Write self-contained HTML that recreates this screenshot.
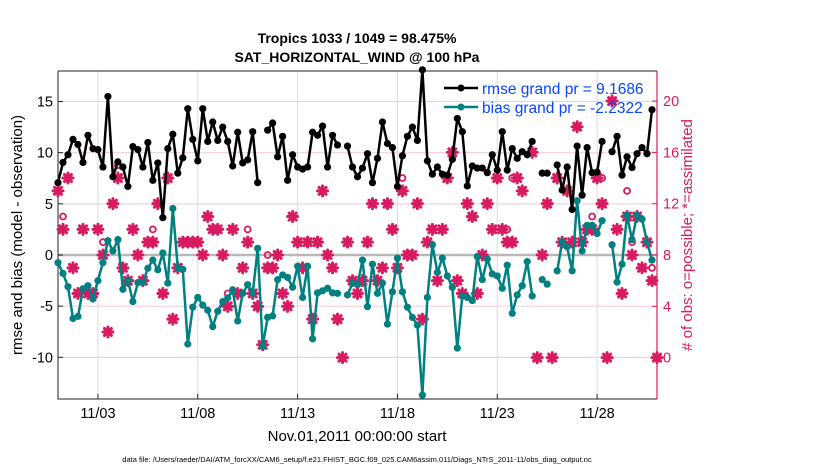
<!DOCTYPE html>
<html><head><meta charset="utf-8">
<style>
html,body{margin:0;padding:0;background:#fff;}
svg{display:block;font-family:"Liberation Sans",sans-serif;}
</style></head>
<body>
<svg id="chart" width="830" height="470" viewBox="0 0 830 470">
<g id="grid"></g>
<g id="axes"></g>
<g id="obs"></g>
<g id="series"></g>
<text x="357" y="43" text-anchor="middle" font-size="14" font-weight="bold">Tropics 1033 / 1049 = 98.475%</text>
<text x="357" y="62" text-anchor="middle" font-size="14" font-weight="bold">SAT_HORIZONTAL_WIND @ 100 hPa</text>
<g>
  <g>
    <line x1="444" y1="88" x2="478" y2="88" stroke="#000" stroke-width="2.5"/>
    <circle cx="461" cy="88" r="3.5" fill="#000"/>
    <text x="482" y="94" font-size="15.5" fill="#0a46ff">rmse grand pr = 9.1686</text>
  </g>
  <g>
    <line x1="444" y1="107" x2="478" y2="107" stroke="#008080" stroke-width="2.5"/>
    <circle cx="461" cy="107" r="3.5" fill="#008080"/>
    <text x="482" y="113" font-size="15.5" fill="#0a46ff">bias grand pr = -2.2322</text>
  </g>
</g>
<text transform="translate(22,235) rotate(-90)" text-anchor="middle" font-size="15">rmse and bias (model - observation)</text>
<text transform="translate(692,235) rotate(-90)" text-anchor="middle" font-size="15" fill="#d81b60"># of obs: o=possible; *=assimilated</text>
<text x="357" y="441" text-anchor="middle" font-size="15">Nov.01,2011 00:00:00 start</text>
<text x="357" y="462" text-anchor="middle" font-size="7.5">data file: /Users/raeder/DAI/ATM_forcXX/CAM6_setup/f.e21.FHIST_BGC.f09_025.CAM6assim.011/Diags_NTrS_2011-11/obs_diag_output.nc</text>
</svg>
<script>
const rmse = [7.07,9.05,9.8,11.3,10.8,9.05,11.7,10.4,10.3,8.6,15.5,7.65,9.1,8.6,6.7,10.6,10.3,8.6,11.0,7.3,9.0,3.65,10.4,11.8,8.0,9.5,14.3,11.3,9.2,14.3,11.1,
13.0,11.2,12.5,11.1,8.7,12.0,9.0,9.3,12.05,7.07,null,12.2,12.9,9.6,11.6,7.3,9.8,8.6,8.4,8.6,12.0,11.7,12.6,8.6,11.7,10.75,null,10.65,8.6,7.65,
8.5,9.9,7.07,9.45,13.0,10.9,10.5,6.7,9.7,11.6,12.5,11.2,18.1,9.2,7.9,8.6,7.9,7.8,9.35,13.35,12.05,6.75,8.7,8.5,8.5,8.05,9.8,8.3,12.05,8.3,10.4,
9.45,10.1,9.8,11.1,null,8.0,8.0,null,8.8,6.35,8.6,4.45,10.65,5.85,10.5,8.05,8.1,11.1,null,10.1,11.6,7.8,9.6,8.55,9.9,10.5,9.9,14.2];
const bias = [-0.75,-1.8,-3.1,-6.2,-6.0,-3.3,-3.0,-4.3,-2.5,-0.75,1.4,0.4,1.5,-3.35,-2.45,-4.55,-2.7,-2.7,-1.3,-0.5,-1.45,0.2,-2.75,4.55,-1.25,-1.4,-8.7,-5.1,-4.15,-4.9,-5.4,
-7.0,-5.5,-4.55,-4.2,-3.4,-6.45,-3.75,-2.9,-3.75,0.65,-8.95,-6.1,-5.95,-2.4,-1.95,-2.2,-3.15,-1.1,-4.15,-1.1,-8.2,-3.7,-3.5,-3.25,-3.7,-3.75,null,-3.9,-2.75,-2.9,
-0.5,-5.05,-0.9,-3.75,-2.75,-6.75,-3.6,-0.3,-3.6,-5.1,-6.1,-6.85,-13.7,-4.15,1.0,-1.7,-0.3,-2.05,-3.15,-9.1,-4.0,-4.15,-4.45,-0.15,-2.4,-0.4,-1.85,-2.05,-3.25,-1.0,-5.7,
-3.9,-3.0,-0.65,-4.0,null,-2.4,-2.85,null,-1.55,1.3,0.8,-1.55,5.3,0.4,2.9,2.9,2.1,3.35,null,1.0,-2.65,-0.9,3.9,1.5,3.9,3.5,1.3,-0.5];
const assimilated = [13,10,14,7,5,10,5,5,10,8,2,12,14,7,6,10,8,6,9,9,12,5,14,3,7,9,9,9,9,8,11,
10,10,8,4,10,5,7,9,5,4,1,7,7,8,5,4,11,9,7,9,3,9,13,8,7,3,0,9,6,5,
6,9,12,6,7,12,10,7,13,8,8,12,3,9,10,6,10,14,16,6,5,12,11,5,8,12,10,14,10,9,9,
14,13,null,16,0,8,12,0,14,9,13,9,18,9,10,10,14,12,0,20,10,5,11,8,11,7,9,6,0];
const possible = [13,11,14,7,5,10,5,5,10,9,2,12,15,7,6,10,8,6,9,10,12,5,14,3,7,9,9,9,9,8,11,
10,10,8,5,10,5,7,10,5,4,1,8,7,8,5,4,11,9,7,9,3,9,13,8,7,3,0,9,6,5,
6,9,12,6,7,12,10,7,14,8,8,12,3,9,10,6,10,14,16,6,5,12,11,5,8,12,10,14,10,10,14,
14,13,null,16,0,8,12,0,14,9,13,9,18,9,10,11,14,14,0,20,10,5,13,9,11,7,9,7,0];
const dateTicks = ["11/03","11/08","11/13","11/18","11/23","11/28"];
const dateTickDays = [2,7,12,17,22,27];
const leftTicks = [-10,-5,0,5,10,15];
const rightTicks = [0,4,8,12,16,20];

const NS="http://www.w3.org/2000/svg";
const L=58,R=657,T=71,B=399;
const X=t=>L+t*(R-L)/30;
const YL=v=>255-10.23*v;
const YR=r=>255-12.83*(r-8);
const PINK="#d81b60";
function mk(tag,attrs,parent){const e=document.createElementNS(NS,tag);for(const k in attrs)e.setAttribute(k,attrs[k]);parent.appendChild(e);return e;}
const grid=document.getElementById('grid'),axes=document.getElementById('axes'),obs=document.getElementById('obs'),ser=document.getElementById('series');

leftTicks.forEach(v=>{
  if(v!==0){const g=mk('line',{x1:L,x2:R,y1:YL(v),y2:YL(v),stroke:'#f5c6d8','stroke-width':1},grid);
  
  }
  const tk=mk('line',{x1:L,x2:L+5,y1:YL(v),y2:YL(v),stroke:'#222'},axes);
  
  
  const t=mk('text',{x:L-5,y:YL(v)+5,'text-anchor':'end','font-size':14.5},axes);t.textContent=v;
  
  
});
dateTickDays.forEach((d,i)=>{
  const g=mk('line',{x1:X(d),x2:X(d),y1:T,y2:B,stroke:'#dcdcdc','stroke-width':1},grid);
  
  
  const tk=mk('line',{x1:X(d),x2:X(d),y1:B,y2:B-5,stroke:'#222'},axes);
  
  
  const t=mk('text',{x:X(d),y:B+19,'text-anchor':'middle','font-size':14.5},axes);t.textContent=dateTicks[i];
  
  
});
const zl=mk('line',{x1:L,x2:R,y1:YL(0),y2:YL(0),stroke:'#b8b8b8','stroke-width':2.5},grid);


rightTicks.forEach(r=>{
  const tk=mk('line',{x1:R-5,x2:R,y1:YR(r),y2:YR(r),stroke:PINK},axes);
  
  
  const t=mk('text',{x:R+6,y:YR(r)+5,'font-size':14.5,fill:PINK},axes);t.textContent=r;
  
  
});
const box=mk('path',{d:`M${L},${T}H${R}M${L},${T}V${B}H${R}`,fill:'none',stroke:'#222','stroke-width':1},axes);


const ra=mk('line',{x1:R,x2:R,y1:T,y2:B,stroke:PINK,'stroke-width':1.2},axes);



possible.forEach((p,i)=>{
  if(p===null)return;
  const a=assimilated[i];
  if(a!==p){
    const c=mk('circle',{cx:X(i*0.25),cy:YR(p),r:3,fill:'none',stroke:PINK,'stroke-width':1.8},obs);
    
    
  }
});
assimilated.forEach((a,i)=>{
  if(a===null)return;
  const x=X(i*0.25),y=YR(a);
  const s=mk('path',{d:`M${x-5},${y}H${x+5}M${x},${y-5}V${y+5}M${x-3.5},${y-3.5}L${x+3.5},${y+3.5}M${x-3.5},${y+3.5}L${x+3.5},${y-3.5}`,stroke:PINK,'stroke-width':3,'stroke-linecap':'round'},obs);
  
  
});

function drawSeries(vals,color,name){
  let d='',pen=false;
  vals.forEach((v,i)=>{
    if(v===null){pen=false;return;}
    d+=(pen?'L':'M')+X(i*0.25).toFixed(1)+','+YL(v).toFixed(1);pen=true;
  });
  const p=mk('path',{d:d,fill:'none',stroke:color,'stroke-width':2.5,'stroke-linejoin':'round'},ser);
  
  
  vals.forEach((v,i)=>{
    if(v===null)return;
    const c=mk('circle',{cx:X(i*0.25),cy:YL(v),r:3.6,fill:color},ser);
    
    
  });
}
drawSeries(bias,'#008080','bias');
drawSeries(rmse,'#000000','rmse');
</script>
</body></html>
